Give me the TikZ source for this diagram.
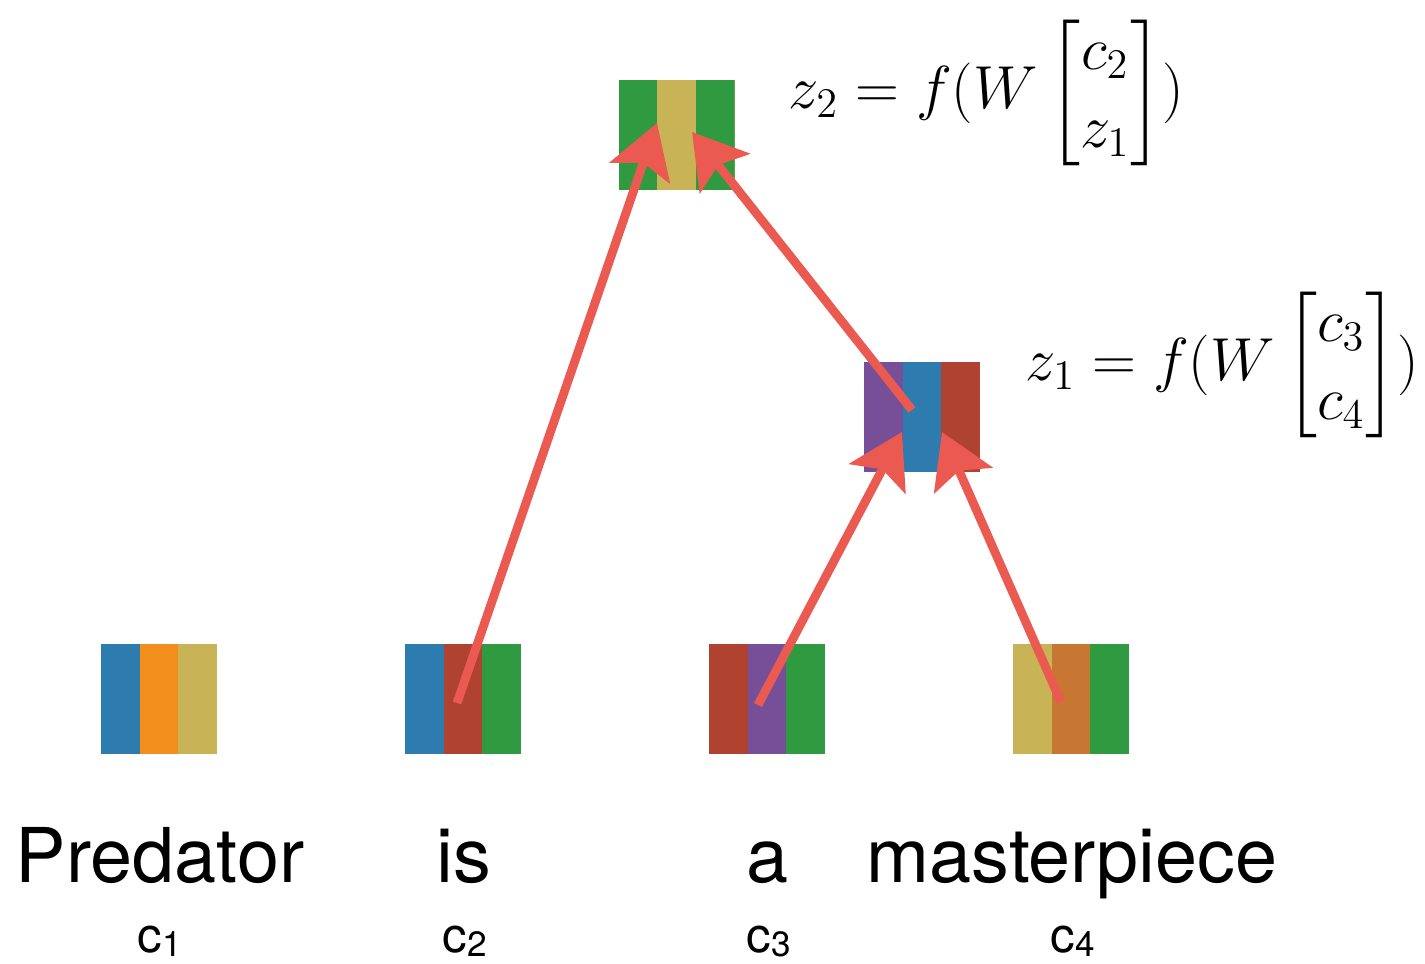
\documentclass[tikz,border=0pt]{standalone}
\usepackage{amsmath}
\usepackage{fontspec}
\usetikzlibrary{arrows.meta}
\newfontfamily\helv{TeX Gyre Heros}

\definecolor{vblue}{HTML}{2E7BAF}
\definecolor{vorange}{HTML}{F28E1C}
\definecolor{vkhaki}{HTML}{C8B456}
\definecolor{vbrick}{HTML}{B0432F}
\definecolor{vgreen}{HTML}{2F9A3F}
\definecolor{vpurple}{HTML}{764F98}
\definecolor{vochre}{HTML}{C77732}
\definecolor{arrowred}{HTML}{EB5A50}

\tikzset{
  vec/.style n args={3}{minimum width=1.16cm, minimum height=1.1cm, inner sep=0pt, fill=#2,
    path picture={
      \fill[#1] (path picture bounding box.south west) rectangle ([xshift=0.387cm]path picture bounding box.north west);
      \fill[#3] ([xshift=-0.387cm]path picture bounding box.south east) rectangle (path picture bounding box.north east);
    }},
  word/.style={font=\helv\fontsize{21.5}{25}\selectfont, inner sep=0pt, anchor=base},
  clabel/.style={font=\helv\fontsize{14}{16}\selectfont, inner sep=0pt, anchor=base},
  compose/.style={-{Stealth[length=15pt,width=18pt,inset=3pt]}, line width=2.5pt, arrowred},
  eq/.style={font=\fontsize{18}{22}\selectfont, inner sep=0pt, anchor=west}
}

\newcommand{\csub}[1]{c\raisebox{-0.1em}{\fontsize{10}{12}\selectfont #1}}

\begin{document}
\begin{tikzpicture}
    \useasboundingbox (0,0) rectangle (14.25,9.63);

    % 词向量
    \node[vec={vblue}{vorange}{vkhaki}] (w1) at (1.59,2.645) {};
    \node[vec={vblue}{vbrick}{vgreen}] (w2) at (4.63,2.645) {};
    \node[vec={vbrick}{vpurple}{vgreen}] (w3) at (7.67,2.645) {};
    \node[vec={vkhaki}{vochre}{vgreen}] (w4) at (10.71,2.645) {};

    % 组合向量
    \node[vec={vpurple}{vblue}{vbrick}] (z1) at (9.22,5.465) {};
    \node[vec={vgreen}{vkhaki}{vgreen}] (z2) at (6.765,8.28) {};

    % 单词
    \node[word] (t1) at (1.60,0.81) {Predator};
    \node[word] (t2) at (4.64,0.81) {is};
    \node[word] (t3) at (7.68,0.81) {a};
    \node[word] (t4) at (10.72,0.81) {masterpiece};

    \node[clabel] (c1) at (1.60,0.11) {\csub{1}};
    \node[clabel] (c2) at (4.65,0.11) {\csub{2}};
    \node[clabel] (c3) at (7.69,0.11) {\csub{3}};
    \node[clabel] (c4) at (10.73,0.11) {\csub{4}};

    % 箭头起点和终点
    \coordinate (s2) at (4.57,2.60);
    \coordinate (s3) at (7.58,2.58);
    \coordinate (s4) at (10.61,2.61);
    \coordinate (sz) at (9.12,5.53);
    \coordinate (e2) at (6.57,8.40);
    \coordinate (ez) at (6.92,8.31);
    \coordinate (e3) at (9.02,5.31);
    \coordinate (e4) at (9.42,5.31);

    \draw[compose] (s2) -- (e2);
    \draw[compose] (sz) -- (ez);
    \draw[compose] (s3) -- (e3);
    \draw[compose] (s4) -- (e4);

    % 公式
    \node[eq] (f2) at (7.88,8.70) {$z_2 = f(W \begin{bmatrix} c_2 \\ z_1 \end{bmatrix})$};
    \node[eq] (f1) at (10.25,5.98) {$z_1 = f(W \begin{bmatrix} c_3 \\ c_4 \end{bmatrix})$};
\end{tikzpicture}
\end{document}
